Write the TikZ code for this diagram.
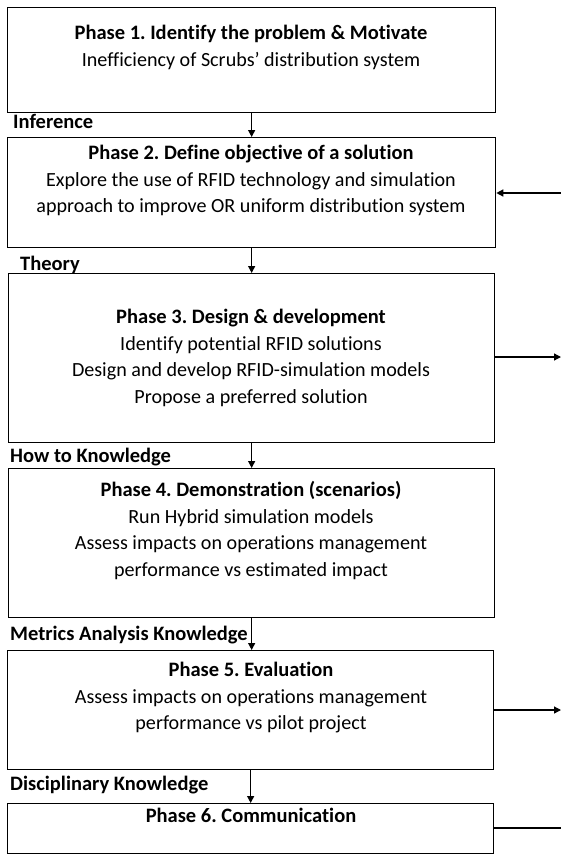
\documentclass[tikz,border=0pt]{standalone}
\usepackage{fontspec}
\setmainfont[Ligatures=NoCommon]{Carlito}
\usetikzlibrary{arrows.meta}
\begin{document}
\frenchspacing
\begin{tikzpicture}[x=1pt,y=-1pt,
  box/.style={draw=black,line width=1.3pt,rectangle,inner sep=0pt,anchor=north west},
  txt/.style={align=center,anchor=north,inner sep=0pt,font=\fontsize{20.1}{26.7}\selectfont},
  ttl/.style={font=\fontsize{20.5}{26.7}\selectfont\bfseries},
  lbl/.style={anchor=base west,inner sep=0pt,font=\fontsize{20.5}{24}\selectfont\bfseries},
  arr/.style={line width=1.3pt,-{Triangle[length=7pt,width=7pt]}},
  ln/.style={line width=1.3pt}]
\useasboundingbox (0,0) rectangle (561,855);
\newcommand{\phasetitle}[1]{{\fontsize{20.5}{26.7}\selectfont\bfseries #1}}
\node[box,minimum width=488pt,minimum height=105pt] (b1) at (7,7) {};
\node[box,minimum width=488pt,minimum height=110pt] (b2) at (7,137) {};
\node[box,minimum width=486pt,minimum height=168.5pt] (b3) at (8,273) {};
\node[box,minimum width=486pt,minimum height=149pt] (b4) at (8,468) {};
\node[box,minimum width=486pt,minimum height=119pt] (b5) at (7,650) {};
\node[box,minimum width=486pt,minimum height=50pt] (b6) at (7,803) {};
\node[txt] (t1) at (251,25) {\phasetitle{Phase 1. Identify the problem \& Motivate}\\Inefficiency of Scrubs’ distribution system};
\node[txt] (t2) at (251,145) {\phasetitle{Phase 2. Define objective of a solution}\\Explore the use of RFID technology and simulation\\approach to improve OR uniform distribution system};
\node[txt] (t3) at (251,309) {\phasetitle{Phase 3. Design \& development}\\Identify potential RFID solutions\\Design and develop RFID-simulation models\\Propose a preferred solution};
\node[txt] (t4) at (251,481) {\phasetitle{Phase 4. Demonstration (scenarios)}\\Run Hybrid simulation models\\Assess impacts on operations management\\performance vs estimated impact};
\node[txt] (t5) at (251,662) {\phasetitle{Phase 5. Evaluation}\\Assess impacts on operations management\\performance vs pilot project};
\node[txt] (t6) at (251,808) {\phasetitle{Phase 6. Communication}};
\node[lbl] (l1) at (13,128) {Inference};
\node[lbl] (l2) at (20,270) {Theory};
\node[lbl] (l3) at (10,462) {How to Knowledge};
\node[lbl] (l4) at (10,640) {Metrics Analysis Knowledge};
\node[lbl] (l5) at (10,790) {Disciplinary Knowledge};
\draw[arr] (b1.south) -- (b1.south |- b2.north);
\draw[arr] (b2.south) -- (b2.south |- b3.north);
\draw[arr] (b3.south) -- (b3.south |- b4.north);
\draw[arr] (b4.south) -- (b4.south |- b5.north);
\draw[arr] (b5.south) -- (b5.south |- b6.north);
\coordinate (r2) at (561,193);
\coordinate (r3) at (561,357);
\coordinate (r5) at (561,710);
\coordinate (r6) at (561,828);
\draw[arr] (r2) -- (b2.east |- r2);
\draw[arr] (b3.east |- r3) -- (r3);
\draw[arr] (b5.east |- r5) -- (r5);
\draw[ln] (b6.east |- r6) -- (r6);
\end{tikzpicture}
\end{document}
